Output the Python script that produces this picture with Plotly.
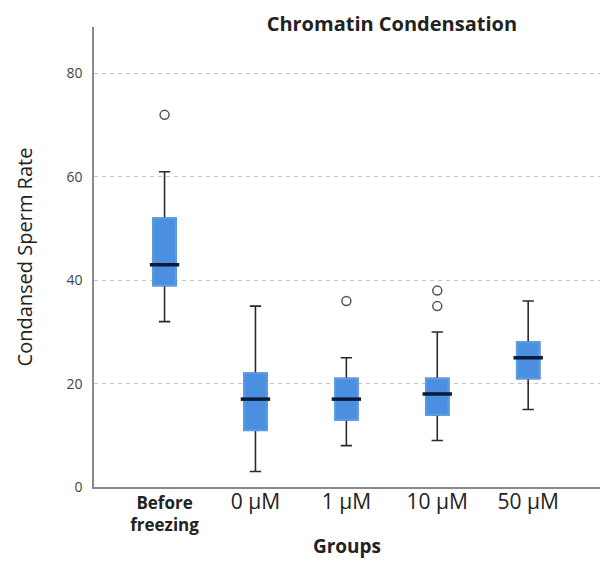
import plotly.graph_objects as go

groups = ["Before freezing", "0 µM", "1 µM", "10 µM", "50 µM"]
tick_labels = ["<b>Before</b><br><b>freezing</b>",
               "<span style='font-size:21px'>0 µM</span>",
               "<span style='font-size:21px'>1 µM</span>",
               "<span style='font-size:21px'>10 µM</span>",
               "<span style='font-size:21px'>50 µM</span>"]
q1 = [39, 11, 13, 14, 21]
median = [43, 17, 17, 18, 25]
q3 = [52, 22, 21, 21, 28]
lower = [32, 3, 8, 9, 15]
upper = [61, 35, 25, 30, 36]
outlier_x = ["Before freezing", "1 µM", "10 µM", "10 µM"]
outlier_y = [72, 36, 35, 38]

BLUE = "#4a8fe0"
EDGE = "#5c9ce6"
DARK = "#2a2a2a"

fig = go.Figure()
fig.add_trace(go.Box(x=groups, q1=q1, median=median, q3=q3,
                     lowerfence=lower, upperfence=upper,
                     fillcolor=BLUE, line=dict(color=DARK, width=1.6),
                     whiskerwidth=0.5, width=0.25, boxpoints=False,
                     showlegend=False, hoverinfo="skip"))
fig.add_trace(go.Box(x=groups, q1=q1, median=median, q3=q3,
                     lowerfence=q1, upperfence=q3,
                     fillcolor=BLUE, line=dict(color=EDGE, width=2),
                     whiskerwidth=0, width=0.25, boxpoints=False,
                     showlegend=False, hoverinfo="skip"))
fig.add_trace(go.Scatter(x=groups, y=median, mode="markers",
                         marker=dict(symbol="line-ew", size=21,
                                     line=dict(color="#0a1a38", width=3.5)),
                         showlegend=False, hoverinfo="skip"))
fig.add_trace(go.Scatter(x=outlier_x, y=outlier_y, mode="markers",
                         marker=dict(symbol="circle-open", size=9,
                                     color="#555555", line=dict(width=1.5)),
                         showlegend=False, hoverinfo="skip"))

fig.update_layout(
    width=601, height=565,
    margin=dict(l=94, r=1, t=27, b=78),
    paper_bgcolor="white", plot_bgcolor="white",
    boxmode="overlay",
    font=dict(family="Open Sans", color="#222"),
    title=dict(text="<b>Chromatin Condensation</b>", x=0.652, xanchor="center",
               y=0.957, yanchor="middle", font=dict(size=20, color="#222")),
)
fig.update_xaxes(type="category", range=[-0.776, 4.79],
                 tickvals=groups, ticktext=tick_labels,
                 tickfont=dict(size=17, color="#222"),
                 showline=True, linecolor="#8a8a8a", linewidth=1.5,
                 showgrid=False, ticks="", zeroline=False,
                 title=dict(text="<b>Groups</b>", font=dict(size=19, color="#222"),
                            standoff=4))
fig.update_yaxes(range=[0, 89], tickvals=[0, 20, 40, 60, 80],
                 tickfont=dict(size=14, color="#444"),
                 showline=True, linecolor="#8a8a8a", linewidth=1.5,
                 showgrid=True, gridcolor="#c4c4c4", gridwidth=1, griddash="4px,4px",
                 zeroline=False, ticks="", ticklabelstandoff=7,
                 title=dict(text="Condansed Sperm Rate", font=dict(size=20, color="#222"),
                            standoff=28))

fig.write_html("out.html")
